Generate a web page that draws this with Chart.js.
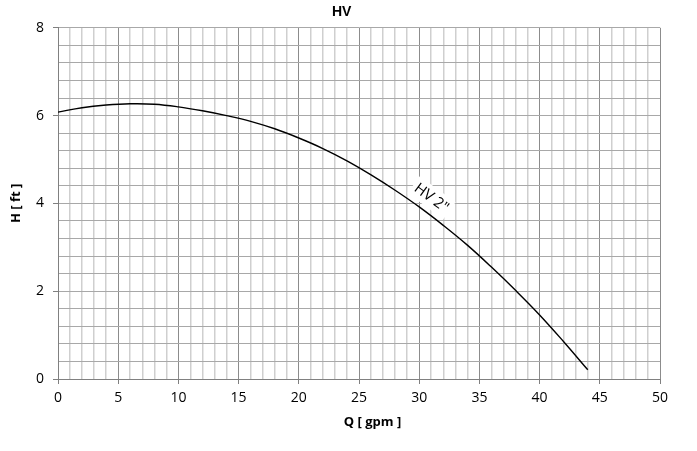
<!DOCTYPE html>
<html>
<head>
<meta charset="utf-8">
<script src="https://cdn.jsdelivr.net/npm/chart.js@4/dist/chart.umd.min.js"></script>
<style>
html,body{margin:0;padding:0;background:#fff;}
#wrap{width:697px;height:451px;}
</style>
</head>
<body>
<div id="wrap"><canvas id="c" width="697" height="451"></canvas></div>
<script>
// Data
const flowQ = [0, 2, 4, 6, 8, 10, 12, 14, 16, 18, 20, 22, 24, 26, 28, 30, 32, 34, 36, 38, 40, 42, 44];
const headH = [6.08, 6.18, 6.24, 6.27, 6.26, 6.20, 6.11, 6.00, 5.87, 5.70, 5.49, 5.25, 4.97, 4.65, 4.30, 3.92, 3.50, 3.05, 2.55, 2.02, 1.46, 0.85, 0.21];
const chartTitle = 'HV';
const xTitle = 'Q [ gpm ]';
const yTitle = 'H [ ft ]';
const curveLabel = 'HV 2"';
const labelAt = {q: 31.0, h: 4.12};

const points = flowQ.map((q, i) => ({x: q, y: headH[i]}));

const isMult = (v, m) => Math.abs(v / m - Math.round(v / m)) < 1e-6;

const labelPlugin = {
  id: 'curveLabel',
  afterDatasetsDraw(chart) {
    const {ctx, scales: {x, y}} = chart;
    const px = x.getPixelForValue(labelAt.q);
    const py = y.getPixelForValue(labelAt.h);
    const a = Math.atan2(y.getPixelForValue(3.5) - y.getPixelForValue(4.3), x.getPixelForValue(32) - x.getPixelForValue(28));
    ctx.save();
    ctx.translate(px, py);
    ctx.rotate(a);
    ctx.font = '15px "Open Sans", sans-serif';
    const w = ctx.measureText(curveLabel).width;
    ctx.fillStyle = '#fff';
    ctx.fillRect(-w / 2 - 3, -11, w + 6, 21);
    ctx.fillStyle = '#000';
    ctx.textAlign = 'center';
    ctx.textBaseline = 'middle';
    ctx.fillText(curveLabel, 0, 0);
    ctx.restore();
  }
};

new Chart(document.getElementById('c'), {
  type: 'scatter',
  data: {
    datasets: [{
      data: points,
      showLine: true,
      borderColor: '#000',
      borderWidth: 1.4,
      pointRadius: 0,
      tension: 0.4,
      fill: false
    }]
  },
  options: {
    responsive: false,
    animation: false,
    layout: {padding: {left: 0, right: 37, top: 0, bottom: 0}},
    plugins: {
      legend: {display: false},
      tooltip: {enabled: false},
      title: {
        display: true,
        text: '      ' + chartTitle,
        color: '#000',
        font: {family: '"Liberation Sans", Arial, sans-serif', size: 14, weight: 'bold'},
        padding: {top: 4, bottom: 7}
      }
    },
    scales: {
      x: {
        type: 'linear',
        min: 0, max: 50,
        afterFit(s) { s.height = 72; },
        ticks: {
          stepSize: 1,
          autoSkip: false,
          maxRotation: 0,
          padding: 6,
          color: '#000',
          font: {family: '"Open Sans", sans-serif', size: 14},
          callback: v => isMult(v, 5) ? String(Math.round(v)) : ''
        },
        grid: {
          color: c => (c.tick && isMult(c.tick.value, 5)) ? '#8c8c8c' : '#cfcfcf',
          lineWidth: c => (c.tick && isMult(c.tick.value, 5)) ? 1 : 1.5,
          tickLength: 5,
          tickColor: c => (c.tick && isMult(c.tick.value, 5)) ? '#808080' : 'rgba(0,0,0,0)'
        },
        border: {color: '#808080', width: 1},
        title: {
          display: true,
          text: '        ' + xTitle,
          color: '#000',
          font: {family: '"Open Sans", sans-serif', size: 13, weight: 'bold'},
          padding: {top: 0, bottom: 21}
        }
      },
      y: {
        type: 'linear',
        min: 0, max: 8,
        afterFit(s) { s.width = 58; },
        ticks: {
          stepSize: 0.4,
          autoSkip: false,
          padding: 9,
          color: '#000',
          font: {family: '"Open Sans", sans-serif', size: 14},
          callback: v => isMult(v, 2) ? String(Math.round(v)) : ''
        },
        grid: {
          color: '#a8a8a8',
          lineWidth: 1,
          tickLength: 5,
          tickColor: c => (c.tick && isMult(c.tick.value, 2)) ? '#808080' : 'rgba(0,0,0,0)'
        },
        border: {color: '#808080', width: 1},
        title: {
          display: true,
          text: yTitle,
          color: '#000',
          font: {family: '"Open Sans", sans-serif', size: 13, weight: 'bold'},
          padding: {top: 8, bottom: 0}
        }
      }
    }
  },
  plugins: [labelPlugin]
});
</script>
</body>
</html>
